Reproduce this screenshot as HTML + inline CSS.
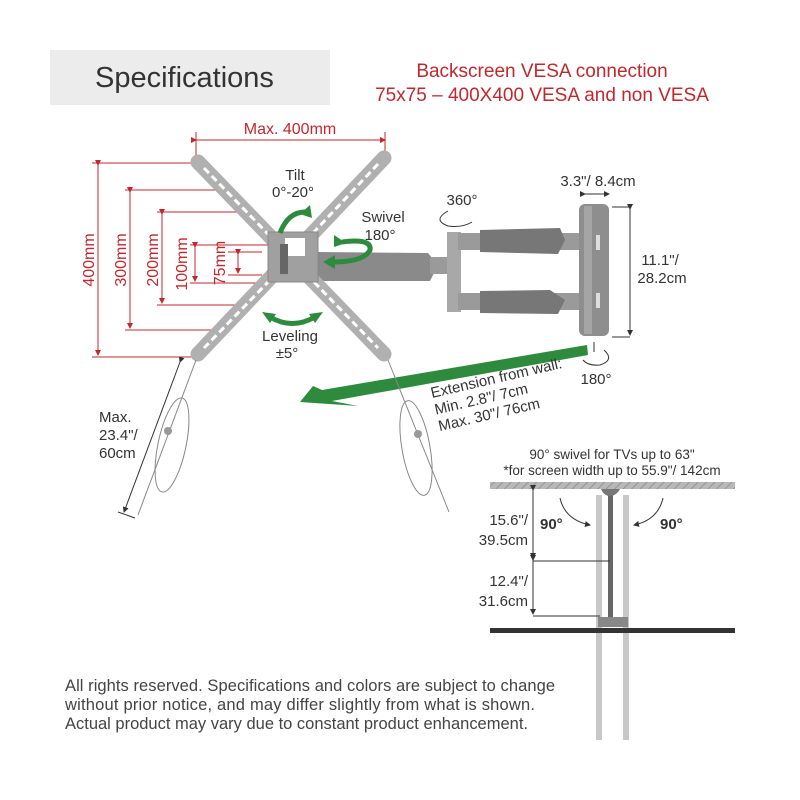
<!DOCTYPE html>
<html><head><meta charset="utf-8"><style>
html,body{margin:0;padding:0;background:#fff;}
svg{display:block;font-family:"Liberation Sans",sans-serif;}
</style></head><body>
<svg width="800" height="800" viewBox="0 0 800 800" xmlns="http://www.w3.org/2000/svg">
<defs>
<pattern id="hatch" width="6" height="6" patternUnits="userSpaceOnUse" patternTransform="rotate(45)">
<rect width="6" height="6" fill="#b8b8b8"/><line x1="0" y1="0" x2="0" y2="6" stroke="#888" stroke-width="1.5"/>
</pattern>
<marker id="ar" markerWidth="6" markerHeight="6" refX="5" refY="3" orient="auto"><path d="M0,0 L6,3 L0,6 z" fill="#c0282d"/></marker>
<marker id="ak" markerWidth="6" markerHeight="6" refX="5" refY="3" orient="auto"><path d="M0,0 L6,3 L0,6 z" fill="#333"/></marker>
</defs>
<rect x="50" y="50" width="280" height="55" fill="#ececec"/>
<text x="95" y="87" font-size="29" fill="#333">Specifications</text>
<text x="542" y="77" font-size="19" fill="#c0282d" text-anchor="middle">Backscreen VESA connection</text>
<text x="542" y="101" font-size="19" fill="#c0282d" text-anchor="middle">75x75 – 400X400 VESA and non VESA</text>

<g stroke="#c0282d" stroke-width="1" fill="none">
<line x1="196" y1="140" x2="385" y2="140" marker-start="url(#ar)" marker-end="url(#ar)"/>
<line x1="196" y1="132" x2="196" y2="160"/><line x1="385" y1="132" x2="385" y2="155"/>
<line x1="92" y1="163" x2="195" y2="163"/><line x1="92" y1="357" x2="195" y2="357"/>
<line x1="98" y1="165" x2="98" y2="355" marker-start="url(#ar)" marker-end="url(#ar)"/>
<line x1="125" y1="190" x2="222" y2="190"/><line x1="125" y1="330" x2="222" y2="330"/>
<line x1="130" y1="192" x2="130" y2="328" marker-start="url(#ar)" marker-end="url(#ar)"/>
<line x1="157" y1="212" x2="244" y2="212"/><line x1="157" y1="305" x2="244" y2="305"/>
<line x1="162" y1="214" x2="162" y2="303" marker-start="url(#ar)" marker-end="url(#ar)"/>
<line x1="190" y1="245" x2="272" y2="245"/><line x1="190" y1="283" x2="272" y2="283"/>
<line x1="195" y1="247" x2="195" y2="281" marker-start="url(#ar)" marker-end="url(#ar)"/>
<line x1="228" y1="252" x2="262" y2="252"/><line x1="228" y1="275" x2="262" y2="275"/>
<line x1="238" y1="254" x2="238" y2="273" marker-start="url(#ar)" marker-end="url(#ar)"/>
</g>
<g fill="#c0282d" font-size="16">
<text x="290" y="134" text-anchor="middle">Max. 400mm</text>
<text transform="translate(94,260) rotate(-90)" text-anchor="middle">400mm</text>
<text transform="translate(126,260) rotate(-90)" text-anchor="middle">300mm</text>
<text transform="translate(158,260) rotate(-90)" text-anchor="middle">200mm</text>
<text transform="translate(187,264) rotate(-90)" text-anchor="middle">100mm</text>
<text transform="translate(225,263) rotate(-90)" text-anchor="middle">75mm</text>
</g>

<path d="M318,252 L428,253 L438,265 L430,281 L318,281 z" fill="#8a8a8a"/>
<rect x="430" y="257" width="20" height="17" fill="#9a9a9a"/>
<rect x="447" y="232" width="14" height="80" fill="#a8a8a8"/>
<rect x="458" y="233" width="130" height="17" fill="#9a9a9a"/>
<rect x="458" y="293" width="130" height="17" fill="#9a9a9a"/>
<path d="M480,230 L560,228 L565,240 L558,254 L480,252 z" fill="#777"/>
<path d="M480,291 L550,290 L565,300 L558,314 L480,313 z" fill="#777"/>
<rect x="579" y="204" width="30" height="132" rx="6" fill="#8e8e8e"/>
<rect x="584" y="206" width="8" height="128" fill="#a5a5a5"/>
<rect x="596" y="235" width="4" height="15" fill="#ddd"/><rect x="596" y="293" width="4" height="15" fill="#ddd"/>

<g stroke="#b0b0b0" stroke-width="15" stroke-linecap="round">
<line x1="198" y1="162" x2="384" y2="354"/><line x1="384" y1="158" x2="198" y2="354"/>
</g>
<g stroke="#fff" stroke-width="3" stroke-dasharray="7 4">
<line x1="204" y1="168" x2="270" y2="236"/><line x1="314" y1="282" x2="378" y2="348"/>
<line x1="378" y1="164" x2="314" y2="232"/><line x1="270" y1="280" x2="204" y2="348"/>
</g>
<rect x="268" y="232" width="50" height="50" fill="#a0a0a0" stroke="#888"/>
<rect x="285" y="238" width="20" height="18" fill="#fff"/>
<rect x="280" y="244" width="8" height="30" fill="#666"/>

<g fill="none" stroke="#2e8b3e" stroke-width="5">
<path d="M280,233 Q288,212 305,212"/>
<path d="M342,242 Q372,238 370,250 Q364,262 332,262"/>
<path d="M270,317 Q292,330 315,317"/>
</g>
<g fill="#2e8b3e">
<path d="M310,205 L312,218 L300,214 z"/>
<path d="M334,235 L346,243 L334,247 z"/>
<path d="M323,262 L335,255 L335,269 z"/>
<path d="M262,312 L276,314 L270,323 z"/>
<path d="M323,312 L309,314 L315,323 z"/>
<path d="M300,402 L313,386 L322,390 L587,345 L588,355 L332,401 L358,406 z"/>
</g>
<g fill="#333" font-size="15" text-anchor="middle">
<text x="295" y="180">Tilt</text><text x="293" y="197">0°-20°</text>
<text x="383" y="222">Swivel</text><text x="380" y="240">180°</text>
<text x="290" y="341">Leveling</text><text x="287" y="358">±5°</text>
<text x="462" y="205">360°</text>
<text x="598" y="186">3.3"/ 8.4cm</text>
<text x="660" y="265">11.1"/</text><text x="662" y="283">28.2cm</text>
<text x="596" y="384">180°</text>
</g>
<g transform="translate(432,398) rotate(-13)" fill="#333" font-size="15">
<text x="0" y="0">Extension from wall:</text><text x="0" y="17">Min. 2.8"/ 7cm</text><text x="0" y="34">Max. 30"/ 76cm</text>
</g>
<g fill="none" stroke="#333" stroke-width="1">
<path d="M448,211 Q432,220 448,226 Q462,228 472,222"/>
<line x1="585" y1="194" x2="609" y2="194" marker-start="url(#ak)" marker-end="url(#ak)"/>
<line x1="612" y1="207" x2="630" y2="207"/><line x1="612" y1="337" x2="630" y2="337"/>
<line x1="630" y1="209" x2="630" y2="335" marker-start="url(#ak)" marker-end="url(#ak)"/>
<line x1="594" y1="342" x2="594" y2="352"/>
<path d="M604,350 Q615,360 600,365 Q588,366 583,360"/>
</g>
<g fill="none" stroke="#888" stroke-width="1">
<line x1="196" y1="360" x2="138" y2="515"/>
<ellipse cx="172" cy="445" rx="14" ry="48" transform="rotate(12 172 445)"/>
<line x1="388" y1="360" x2="449" y2="512"/>
<ellipse cx="416" cy="448" rx="14" ry="48" transform="rotate(-10 416 448)"/>
</g>
<circle cx="168" cy="431" r="4" fill="#999"/><circle cx="418" cy="434" r="4" fill="#999"/>
<line x1="180" y1="362" x2="124" y2="512" stroke="#333" marker-start="url(#ak)" marker-end="url(#ak)"/>
<line x1="118" y1="512" x2="135" y2="518" stroke="#333"/>
<g fill="#333" font-size="15"><text x="99" y="422">Max.</text><text x="99" y="440">23.4"/</text><text x="99" y="458">60cm</text></g>

<text x="612" y="459" font-size="13.5" fill="#333" text-anchor="middle">90° swivel for TVs up to 63"</text>
<text x="612" y="475" font-size="13.5" fill="#333" text-anchor="middle">*for screen width up to 55.9"/ 142cm</text>
<rect x="490" y="482" width="245" height="7" fill="url(#hatch)"/>
<rect x="596" y="495" width="6" height="245" fill="#c8c8c8"/>
<rect x="623" y="495" width="6" height="245" fill="#c8c8c8"/>
<rect x="608" y="492" width="5" height="128" fill="#666"/>
<path d="M601,489 L620,489 Q616,496 610,496 Q604,496 601,489z" fill="#777"/>
<rect x="598" y="617" width="30" height="10" fill="#888"/>
<rect x="490" y="628" width="245" height="5" fill="#333"/>
<g stroke="#333" stroke-width="1" fill="none">
<line x1="533" y1="490" x2="533" y2="558" marker-start="url(#ak)" marker-end="url(#ak)"/>
<line x1="533" y1="560" x2="533" y2="614" marker-start="url(#ak)" marker-end="url(#ak)"/>
<line x1="533" y1="561" x2="610" y2="561"/><line x1="533" y1="616" x2="600" y2="616"/>
<path d="M560,498 Q565,520 590,525" marker-end="url(#ak)"/>
<path d="M663,498 Q658,520 634,525" marker-end="url(#ak)"/>
</g>
<g fill="#333" font-size="15">
<text x="528" y="525" text-anchor="end">15.6"/</text><text x="528" y="545" text-anchor="end">39.5cm</text>
<text x="528" y="586" text-anchor="end">12.4"/</text><text x="528" y="606" text-anchor="end">31.6cm</text>
<text x="540" y="529" font-weight="bold">90°</text><text x="660" y="529" font-weight="bold">90°</text>
</g>
<g fill="#444" font-size="16.5">
<text x="65" y="691" textLength="490">All rights reserved. Specifications and colors are subject to change</text>
<text x="65" y="710" textLength="470">without prior notice, and may differ slightly from what is shown.</text>
<text x="65" y="729" textLength="463">Actual product may vary due to constant product enhancement.</text>
</g>
</svg>
</body></html>
